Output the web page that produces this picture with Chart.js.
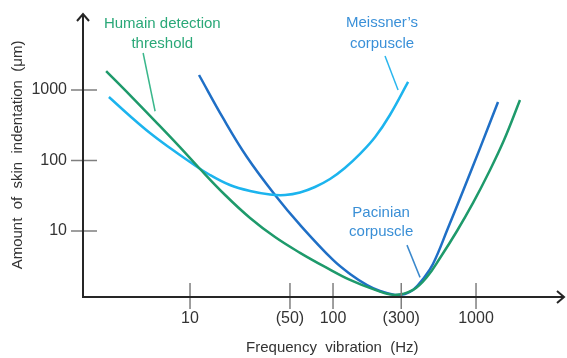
<!DOCTYPE html>
<html>
<head>
<meta charset="utf-8">
<script src="https://cdn.jsdelivr.net/npm/chart.js@4.4.1/dist/chart.umd.min.js"></script>
<style>
  html, body { margin: 0; padding: 0; background: #fff; }
  #wrap { width: 567px; height: 358px; }
</style>
</head>
<body>
<div id="wrap"><canvas id="sensChart"></canvas></div>
<script>
// axis ticks
const freqTicks = [10, 50, 100, 300, 1000];
const freqTickLabels = ["10", "(50)", "100", "(300)", "1000"];
const ampTicks = [10, 100, 1000];
const ampTickLabels = ["10", "100", "1000"];

// Humain detection threshold (Hz / µm)
const thresholdFreq = [2.59, 3.8, 5.7, 8.5, 11.75, 17.6, 26.3, 39.3, 58.8, 88, 131.5, 197, 271, 363, 454, 560, 736, 953, 1213, 1570, 2030];
const thresholdAmp  = [1860, 849, 363, 155, 75.8, 32.4, 15.3, 8.2, 4.9, 3.09, 2.02, 1.46, 1.24, 1.46, 2.23, 4.14, 10, 25, 64.3, 195, 721];

// Meissner's corpuscle
const meissnerFreq = [2.71, 3.8, 5.25, 7.25, 10, 13.8, 19, 26.3, 36.3, 46.2, 58.8, 74.8, 95.3, 121, 154.5, 197, 250, 335];
const meissnerAmp  = [796, 428, 245, 150, 95.2, 62.3, 44.9, 36.9, 32.9, 32.4, 35.2, 42.1, 54.6, 78.3, 124, 215, 442, 1300];

// Pacinian corpuscle
const pacinianFreq = [11.56, 17, 25, 39.3, 58.8, 100, 131.5, 173, 213, 271, 319, 363, 426, 500, 637, 811, 1067, 1425];
const pacinianAmp  = [1632, 401, 112, 32.4, 12.2, 3.88, 2.46, 1.71, 1.41, 1.24, 1.28, 1.46, 2.09, 3.4, 11, 36.9, 150, 676];

const FONT = "'Liberation Sans', Arial, sans-serif";

function toPoints(xs, ys) {
  return xs.map((x, i) => ({ x: x, y: ys[i] }));
}

// call-out labels, placed in data coordinates
const callouts = [
  { lines: ["Humain detection", "threshold"], color: "#2aa878", lineColor: "#3ab78b",
    at: [6.4, 8600, 4500], leader: [4.7, 3350, 5.7, 500] },
  { lines: ["Meissner\u2019s", "corpuscle"], color: "#3a90d8", lineColor: "#2ab6ee",
    at: [220, 8900, 4500], leader: [231, 3030, 285, 1000] },
  { lines: ["Pacinian", "corpuscle"], color: "#3a8fd6", lineColor: "#3a88cc",
    at: [217, 18, 9.7], leader: [329, 6.3, 406, 2.2] }
];

const axisArtist = {
  id: 'axisArtist',
  afterDatasetsDraw(chart) {
    const { ctx, chartArea: a, scales: { x, y } } = chart;
    const ox = a.left, oy = a.bottom;
    ctx.save();
    ctx.lineCap = 'butt';

    // tick marks across the axes
    ctx.strokeStyle = '#7f7f7f';
    ctx.lineWidth = 1.5;
    ctx.beginPath();
    freqTicks.forEach(v => {
      const px = x.getPixelForValue(v);
      ctx.moveTo(px, oy - 14); ctx.lineTo(px, oy + 12);
    });
    ampTicks.forEach(v => {
      const py = y.getPixelForValue(v);
      ctx.moveTo(ox - 12, py); ctx.lineTo(ox + 14, py);
    });
    ctx.stroke();

    // axes with open arrow heads
    ctx.strokeStyle = '#262626';
    ctx.lineWidth = 2;
    ctx.beginPath();
    ctx.moveTo(ox, oy); ctx.lineTo(ox, a.top + 1);
    ctx.moveTo(ox - 1, oy); ctx.lineTo(a.right - 1, oy);
    ctx.stroke();
    ctx.beginPath();
    ctx.moveTo(ox - 6, a.top + 8); ctx.lineTo(ox, a.top + 1); ctx.lineTo(ox + 6, a.top + 8);
    ctx.moveTo(a.right - 8, oy - 6); ctx.lineTo(a.right - 1, oy); ctx.lineTo(a.right - 8, oy + 6);
    ctx.stroke();

    // call-outs
    ctx.font = '15px ' + FONT;
    ctx.textAlign = 'center';
    ctx.textBaseline = 'middle';
    callouts.forEach(c => {
      ctx.fillStyle = c.color;
      const cx = x.getPixelForValue(c.at[0]);
      c.lines.forEach((t, i) => ctx.fillText(t, cx, y.getPixelForValue(c.at[i + 1])));
      ctx.strokeStyle = c.lineColor;
      ctx.lineWidth = 1.5;
      ctx.beginPath();
      ctx.moveTo(x.getPixelForValue(c.leader[0]), y.getPixelForValue(c.leader[1]));
      ctx.lineTo(x.getPixelForValue(c.leader[2]), y.getPixelForValue(c.leader[3]));
      ctx.stroke();
    });
    ctx.restore();
  }
};

function curve(label, xs, ys, color) {
  return {
    label: label,
    data: toPoints(xs, ys),
    borderColor: color,
    borderWidth: 2.5,
    pointRadius: 0,
    fill: false,
    tension: 0.4,
    clip: false
  };
}

new Chart(document.getElementById('sensChart'), {
  type: 'line',
  data: {
    datasets: [
      curve("Humain detection threshold", thresholdFreq, thresholdAmp, "#1e9a6b"),
      curve("Meissner's corpuscle", meissnerFreq, meissnerAmp, "#1cb4ee"),
      curve("Pacinian corpuscle", pacinianFreq, pacinianAmp, "#1f6fc6")
    ]
  },
  options: {
    responsive: true,
    maintainAspectRatio: false,
    animation: false,
    layout: { padding: { top: 13, right: 2, left: 0, bottom: 0 } },
    plugins: { legend: { display: false }, tooltip: { enabled: false } },
    scales: {
      x: {
        type: 'logarithmic',
        min: 1.785,
        max: 4190,
        grid: { display: false, drawTicks: false },
        border: { display: false },
        afterBuildTicks: s => { s.ticks = freqTicks.map(v => ({ value: v })); },
        afterFit: s => { s.height = 61; s.paddingLeft = 0; s.paddingRight = 0; },
        ticks: {
          autoSkip: false,
          maxRotation: 0,
          padding: 12,
          color: '#333',
          font: { family: FONT, size: 16 },
          callback: (v, i) => freqTickLabels[i]
        },
        title: {
          display: true,
          text: '    Frequency  vibration  (Hz)',
          color: '#333',
          font: { family: FONT, size: 15 },
          padding: { top: 0, bottom: 1 }
        }
      },
      y: {
        type: 'logarithmic',
        min: 1.158,
        max: 12370,
        grid: { display: false, drawTicks: false },
        border: { display: false },
        afterBuildTicks: s => { s.ticks = ampTicks.map(v => ({ value: v })); },
        afterFit: s => { s.width = 83; s.paddingTop = 0; s.paddingBottom = 0; },
        ticks: {
          autoSkip: false,
          padding: 16,
          color: '#333',
          font: { family: FONT, size: 16 },
          callback: (v, i) => ampTickLabels[i]
        },
        title: {
          display: true,
          text: 'Amount  of  skin  indentation  (\u03bcm)',
          color: '#333',
          font: { family: FONT, size: 15 },
          padding: { top: 9, bottom: 0 }
        }
      }
    }
  },
  plugins: [axisArtist]
});
</script>
</body>
</html>
